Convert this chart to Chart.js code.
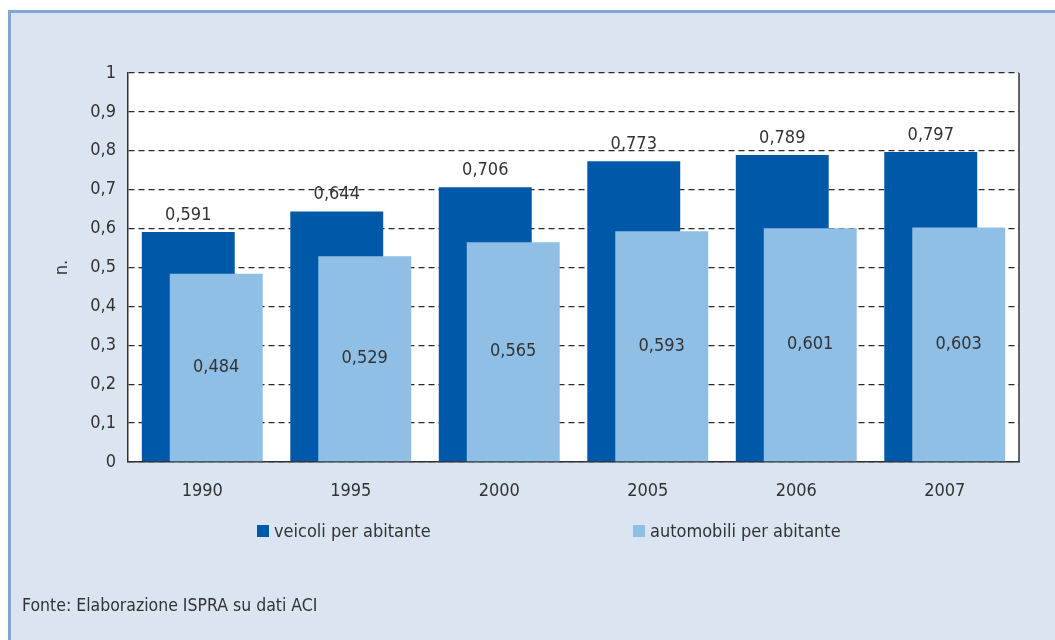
<!DOCTYPE html>
<html>
<head>
<meta charset="utf-8">
<script src="https://cdn.jsdelivr.net/npm/chart.js@4/dist/chart.umd.min.js"></script>
<style>
  html, body { margin: 0; padding: 0; background: #ffffff; }
  #frame {
    position: absolute; left: 8px; top: 10px; width: 1060px; height: 640px;
    background: #dbe5f1; border-left: 3px solid #7ea7d8; border-top: 3px solid #7ea7d8;
  }
  #wrap { position: absolute; left: 0; top: 0; width: 1055px; height: 640px; }
  #source {
    position: absolute; left: 22px; top: 595px;
    font-family: "Liberation Sans Narrow", "DejaVu Sans Condensed", "Liberation Sans", sans-serif;
    font-size: 17.5px; color: #333333;
  }
</style>
</head>
<body>
<div id="frame"></div>
<div id="wrap"><canvas id="chart" width="1055" height="640"></canvas></div>
<div id="source">Fonte: Elaborazione ISPRA su dati ACI</div>
<script>
  // Data
  const years = ['1990', '1995', '2000', '2005', '2006', '2007'];
  const veicoli = [0.591, 0.644, 0.706, 0.773, 0.789, 0.797];
  const automobili = [0.484, 0.529, 0.565, 0.593, 0.601, 0.603];
  const seriesLabels = ['veicoli per abitante', 'automobili per abitante'];

  const FONT = '"Liberation Sans Narrow", "DejaVu Sans Condensed", "Liberation Sans", sans-serif';
  const TEXT = '#333333';
  const DARK = '#0059a8';
  const LIGHT = '#8fbfe5';

  const fmt = (v) => String(v).replace('.', ',');

  // white plot area
  const plotBackground = {
    id: 'plotBackground',
    beforeDraw: (chart) => {
      const { ctx, chartArea: a } = chart;
      ctx.save();
      ctx.fillStyle = '#ffffff';
      ctx.fillRect(a.left, a.top, a.right - a.left, a.bottom - a.top);
      ctx.restore();
    }
  };

  // draw datasets in index order so the light bars sit in front of the dark ones
  const frontToBack = {
    id: 'frontToBack',
    beforeDatasetsDraw: (chart) => {
      chart.data.datasets.forEach((ds, i) => chart.getDatasetMeta(i).controller.draw());
      return false;
    }
  };

  // value labels, right border and a widely spaced legend
  const overlay = {
    id: 'overlay',
    afterDraw: (chart) => {
      const { ctx, chartArea: a } = chart;
      ctx.save();

      ctx.strokeStyle = '#333333';
      ctx.lineWidth = 1.5;
      ctx.beginPath();
      ctx.moveTo(a.right, a.top);
      ctx.lineTo(a.right, a.bottom);
      ctx.stroke();

      ctx.font = '18px ' + FONT;
      ctx.fillStyle = TEXT;
      ctx.textAlign = 'center';
      chart.data.datasets.forEach((ds, di) => {
        chart.getDatasetMeta(di).data.forEach((bar, i) => {
          const txt = fmt(ds.data[i]);
          if (di === 0) {
            ctx.textBaseline = 'alphabetic';
            ctx.fillText(txt, bar.x, bar.y - 12);
          } else {
            ctx.textBaseline = 'middle';
            ctx.fillText(txt, bar.x, (bar.y + bar.base) / 2);
          }
        });
      });

      const box = 12, gapText = 5, step = 376;
      const y = a.bottom + 69;
      chart.data.datasets.forEach((ds, i) => {
        const x = a.left + 129 + i * step;
        ctx.fillStyle = ds.backgroundColor;
        ctx.fillRect(x, y - box / 2, box, box);
        ctx.fillStyle = TEXT;
        ctx.textAlign = 'left';
        ctx.textBaseline = 'middle';
        ctx.fillText(ds.label, x + box + gapText, y + 1);
      });
      ctx.restore();
    }
  };

  new Chart(document.getElementById('chart'), {
    type: 'bar',
    data: {
      labels: years,
      datasets: [
        { label: seriesLabels[0], data: veicoli, backgroundColor: DARK },
        { label: seriesLabels[1], data: automobili, backgroundColor: LIGHT }
      ]
    },
    options: {
      responsive: false,
      animation: false,
      datasets: { bar: { categoryPercentage: 0.377, barPercentage: 3.32 } },
      layout: { padding: { left: 52, right: 36, top: 73, bottom: 128 } },
      plugins: { legend: { display: false }, tooltip: { enabled: false } },
      scales: {
        x: {
          grid: { display: false, drawTicks: false },
          border: { display: true, color: '#333333', width: 1.5 },
          ticks: { color: TEXT, padding: 19, font: { family: FONT, size: 18 } },
          afterFit: (s) => { s.height = 50; }
        },
        y: {
          min: 0, max: 1,
          grid: { color: '#2a2a2a', lineWidth: 1.3, drawTicks: false },
          border: { display: true, color: '#333333', width: 1.5, dash: [6, 4] },
          ticks: {
            stepSize: 0.1, color: TEXT, padding: 12,
            font: { family: FONT, size: 18 },
            callback: (v) => fmt(Math.round(v * 10) / 10)
          },
          title: { display: true, text: 'n.', color: TEXT, padding: 0, font: { family: FONT, size: 18 } },
          afterFit: (s) => { s.width = 76; }
        }
      }
    },
    plugins: [plotBackground, frontToBack, overlay]
  });
</script>
</body>
</html>
